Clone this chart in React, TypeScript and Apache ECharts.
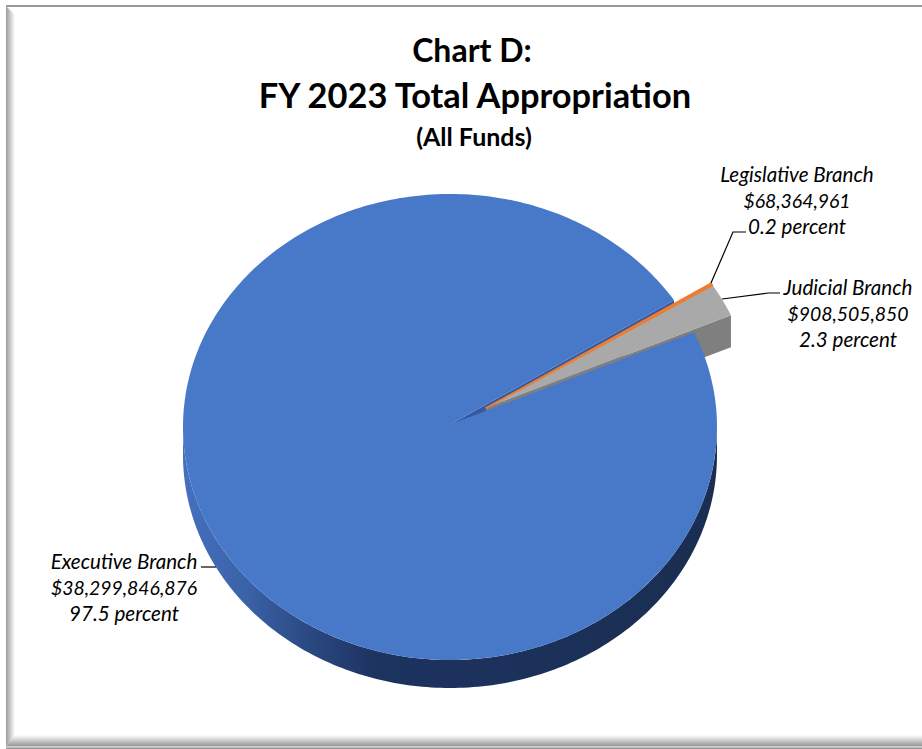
import React, { useEffect, useRef } from "react";
import * as echarts from "echarts";

const categories = ["Executive Branch", "Judicial Branch", "Legislative Branch"];
const amounts = [38299846876, 908505850, 68364961];
const amountLabels = ["$38,299,846,876", "$908,505,850", "$68,364,961"];
const percentLabels = ["97.5 percent", "2.3 percent", "0.2 percent"];
const titleLines = ["Chart D:", "FY 2023 Total Appropriation", "(All Funds)"];

const FONT = "Lato, 'Open Sans', sans-serif";
const BLUE = "#4878C8";
const GRAY = "#A9A9A9";
const ORANGE = "#ED7D31";

const CX = 450, CY = 427, RX = 267, RY = 233, DEPTH = 28;
const TIP_X = 451, TIP_Y = 424;
const EX_DX = 37, EX_DY = -17, EX_TIP_DX = 35, EX_TIP_DY = -16, EX_DEPTH = 32;
const START_DEG = 24; // Math angle at which the first slice begins, running clockwise

const rad = (d: number) => (d * Math.PI) / 180;
const rim = (deg: number, dx = 0, dy = 0): [number, number] => [
  CX + dx + RX * Math.cos(rad(deg)),
  CY + dy - RY * Math.sin(rad(deg)),
];
const arc = (from: number, to: number, dx = 0, dy = 0) => {
  const n = Math.max(2, Math.ceil(Math.abs(to - from)));
  const pts: [number, number][] = [];
  for (let i = 0; i <= n; i++) pts.push(rim(from + ((to - from) * i) / n, dx, dy));
  return pts;
};

const total = amounts.reduce((a, b) => a + b, 0);
// Clockwise order round the pie: executive, legislative, judicial
const sliceOrder = [0, 2, 1];
const spans: Record<number, [number, number]> = {};
{
  let a = START_DEG;
  for (const i of sliceOrder) {
    const sweep = (amounts[i] / total) * 360;
    spans[i] = [a, a - sweep];
    a -= sweep;
  }
}

const poly = (points: number[][], fill: any, z2: number, extra: any = {}) => ({
  type: "polygon",
  z2,
  silent: true,
  shape: { points },
  style: { fill, ...extra },
});

const leader = (points: number[][]) => ({
  type: "polyline",
  z2: 8,
  silent: true,
  shape: { points },
  style: { fill: "none", stroke: "#000", lineWidth: 1.2 },
});

const label = (i: number, x: number, y: number) => ({
  type: "text",
  z2: 9,
  silent: true,
  x,
  y,
  style: {
    text: `{n|${categories[i]}}\n{a|${amountLabels[i]}}\n{n|${percentLabels[i]}}`,
    fill: "#000",
    align: "center",
    verticalAlign: "middle",
    rich: {
      n: { font: `italic 20.6px ${FONT}`, fill: "#000", lineHeight: 26.3 },
      a: { font: `italic 19.4px ${FONT}`, fill: "#000", lineHeight: 26.3 },
    },
  },
});

function renderItem(_params: any, api: any) {
  const i = api.value(0);
  const [a0, a1] = spans[i];
  const children: any[] = [];
  if (i === 0) {
    const wallGrad = new echarts.graphic.LinearGradient(0, 0, 1, 0, [
      { offset: 0, color: "#4470BE" },
      { offset: 0.12, color: "#3A62A8" },
      { offset: 0.22, color: "#2C4C86" },
      { offset: 0.36, color: "#1D3360" },
      { offset: 1, color: "#1A2E52" },
    ]);
    const lower = arc(0, -180);
    const wall = lower.concat(lower.slice().reverse().map(([x, y]) => [x, y + DEPTH] as [number, number]));
    children.push(poly(wall, wallGrad, 1));
    const e = rim(a1);
    children.push(poly([[TIP_X, TIP_Y], e, [e[0], e[1] + DEPTH], [TIP_X, TIP_Y + DEPTH]], "#36599C", 1));
    children.push(poly([[TIP_X, TIP_Y], ...arc(a0, a1)], BLUE, 4));
    children.push(leader([[201, 567], [216, 567]]));
    children.push(label(0, 124, 587));
  } else {
    const tip: [number, number] = [TIP_X + EX_TIP_DX, TIP_Y + EX_TIP_DY];
    const outer = arc(a0, a1, EX_DX, EX_DY);
    if (i === 1) {
      const [lx, ly] = outer[outer.length - 1];
      children.push(poly([tip, [lx, ly], [lx, ly + EX_DEPTH], [tip[0], tip[1] + EX_DEPTH]], "#7F7F7F", 2));
      children.push(poly([tip, ...outer], GRAY, 5));
      children.push(leader([[722, 299], [768, 293], [780, 293]]));
      children.push(label(1, 848, 313));
    } else {
      children.push(poly([tip, ...outer], ORANGE, 6, { stroke: ORANGE, lineWidth: 1.5, lineJoin: "round" }));
      children.push(leader([[711, 283], [733, 232], [746, 232]]));
      children.push(label(2, 797, 200));
    }
  }
  return { type: "group", children };
}

export default function App() {
  const ref = useRef<HTMLDivElement>(null);
  useEffect(() => {
    document.body.style.margin = "0";
    const chart = echarts.init(ref.current!, null, { renderer: "svg" });
    const g = (x0: number, y0: number, x1: number, y1: number, from: string, to: string) =>
      new echarts.graphic.LinearGradient(x0, y0, x1, y1, [
        { offset: 0, color: from },
        { offset: 1, color: to },
      ]);
    chart.setOption({
      animation: false,
      backgroundColor: "#fff",
      title: [
        { text: titleLines[0], left: 467, top: 28, textAlign: "center", textStyle: { fontFamily: FONT, fontWeight: "bold", fontSize: 32, color: "#000" } },
        { text: titleLines[1], left: 470, top: 72, textAlign: "center", textStyle: { fontFamily: FONT, fontWeight: "bold", fontSize: 34.4, color: "#000" } },
        { text: titleLines[2], left: 469, top: 118, textAlign: "center", textStyle: { fontFamily: FONT, fontWeight: "bold", fontSize: 25, color: "#000" } },
      ],
      graphic: [
        { type: "rect", silent: true, z: -1, shape: { x: 6, y: 5, width: 916, height: 2 }, style: { fill: "#9A9A9A" } },
        { type: "polygon", silent: true, z: -1, shape: { points: [[6, 6], [15, 15], [15, 736], [6, 746]] }, style: { fill: g(0, 0, 1, 0, "#9C9C9C", "#FFFFFF") } },
        { type: "polygon", silent: true, z: -1, shape: { points: [[6, 746], [15, 735], [922, 735], [922, 746]] }, style: { fill: g(0, 0, 0, 1, "#FFFFFF", "#969696") } },
        { type: "rect", silent: true, z: -1, shape: { x: 6, y: 746, width: 916, height: 1.5 }, style: { fill: "#D0D0D0" } },
        { type: "rect", silent: true, z: -1, shape: { x: 6, y: 747.5, width: 916, height: 1.5 }, style: { fill: "#9A9A9A" } },
      ],
      series: [
        {
          type: "custom",
          coordinateSystem: "none",
          renderItem,
          data: categories.map((name, i) => ({ name, value: [i, amounts[i]] })),
        },
      ],
    });
    return () => chart.dispose();
  }, []);
  return <div ref={ref} style={{ position: "absolute", left: 0, top: 0, width: 922, height: 749 }} />;
}
